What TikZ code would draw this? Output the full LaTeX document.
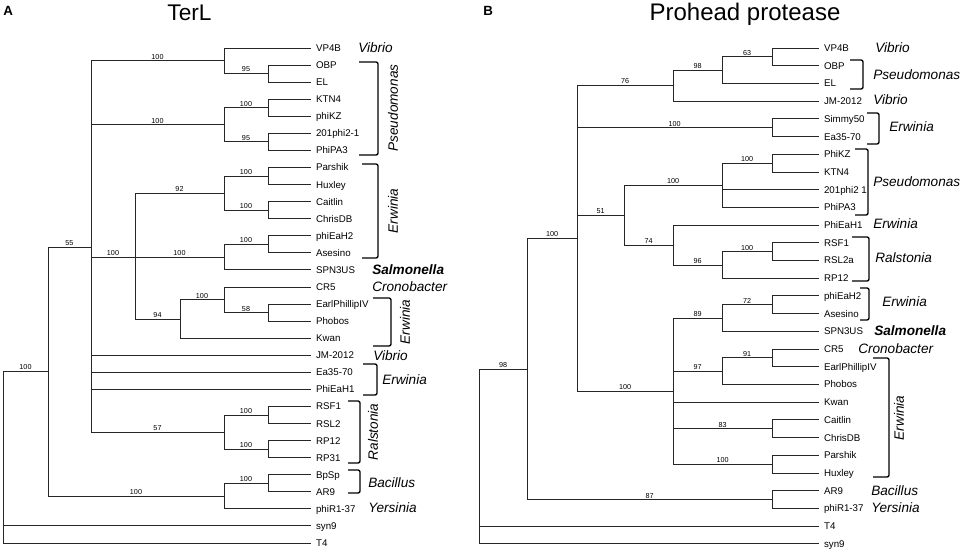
\documentclass[tikz,border=0pt]{standalone}
\usepackage{fontspec}
\setmainfont{Liberation Sans}
\tikzset{
  br/.style={line width=0.7pt, draw=black!85},
  leaf/.style={anchor=west, inner xsep=3.6pt, inner ysep=0pt, font=\fontsize{7.3}{8}\selectfont, text height=5.2pt, text depth=0pt},
  boot/.style={above=0.4pt, inner sep=0.4pt, font=\fontsize{5.4}{6}\selectfont},
  genus/.style={anchor=west, inner sep=0pt, font=\fontsize{10.2}{12}\selectfont\itshape, text height=7.3pt, text depth=0pt},
  genusb/.style={genus, font=\fontsize{10.2}{12}\selectfont\bfseries\itshape},
  genusv/.style={rotate=90, inner sep=0pt, font=\fontsize{10.2}{12}\selectfont\itshape, text height=7.3pt, text depth=0pt},
  bracket/.style={line width=1pt, draw=black, rounded corners=1.5pt},
  title/.style={anchor=base, inner sep=0pt},
  panel/.style={anchor=base west, inner sep=0pt, font=\fontsize{10}{12}\selectfont\bfseries},
}
\begin{document}
\begin{tikzpicture}[x=0.75pt,y=-0.75pt]
\useasboundingbox (0,0) rectangle (964,553);

% ---------------- titles ----------------
\node[panel] (pA) at (3,15.5) {A};
\node[panel] (pB) at (483,15.5) {B};
\node[title, font=\fontsize{17}{20}\selectfont] (tA) at (189.5,21) {TerL};
\node[title, font=\fontsize{18}{20}\selectfont] (tB) at (745,21) {Prohead protease};

% ---------------- left tree: leaves ----------------
\foreach \i/\t in {0/VP4B,1/OBP,2/EL,3/KTN4,4/phiKZ,5/201phi2-1,6/PhiPA3,7/Parshik,8/Huxley,9/Caitlin,10/ChrisDB,11/phiEaH2,12/Asesino,13/SPN3US,14/CR5,15/EarlPhillipIV,16/Phobos,17/Kwan,18/JM-2012,19/Ea35-70,20/PhiEaH1,21/RSF1,22/RSL2,23/RP12,24/RP31,25/BpSp,26/AR9,27/phiR1-37,28/syn9,29/T4}
  \node[leaf] (A\i) at (311,{48+17.07*\i}) {\t};

% internal nodes
\coordinate (La) at (268,73.6);
\coordinate (Lb) at (224,60.8);
\coordinate (Lc) at (268,107.7);
\coordinate (Ld) at (268,141.9);
\coordinate (Le) at (224,124.8);
\coordinate (Lf) at (268,176.0);
\coordinate (Lg) at (268,210.2);
\coordinate (Lh) at (224,193.1);
\coordinate (Li) at (268,244.3);
\coordinate (Lj) at (224,257.1);
\coordinate (Lk) at (268,312.6);
\coordinate (Ll) at (224,299.8);
\coordinate (Lm) at (180,319.0);
\coordinate (Ln) at (135,257.1);
\coordinate (Lo) at (268,415.0);
\coordinate (Lp) at (268,449.1);
\coordinate (Lq) at (224,432.1);
\coordinate (Lr) at (91,247.0);
\coordinate (Ls) at (268,483.3);
\coordinate (Lt) at (224,496.1);
\coordinate (Lu) at (48,371.5);
\coordinate (Lv) at (3,371.5);

\draw[br] (La) |- (A1.west) (La) |- (A2.west);
\draw[br] (Lb) |- (A0.west) (Lb) |- node[boot,pos=0.75]{95} (La);
\draw[br] (Lc) |- (A3.west) (Lc) |- (A4.west);
\draw[br] (Ld) |- (A5.west) (Ld) |- (A6.west);
\draw[br] (Le) |- node[boot,pos=0.75]{100} (Lc) (Le) |- node[boot,pos=0.75]{95} (Ld);
\draw[br] (Lf) |- (A7.west) (Lf) |- (A8.west);
\draw[br] (Lg) |- (A9.west) (Lg) |- (A10.west);
\draw[br] (Lh) |- node[boot,pos=0.75]{100} (Lf) (Lh) |- node[boot,pos=0.75]{100} (Lg);
\draw[br] (Li) |- (A11.west) (Li) |- (A12.west);
\draw[br] (Lj) |- node[boot,pos=0.75]{100} (Li) (Lj) |- (A13.west);
\draw[br] (Lk) |- (A15.west) (Lk) |- (A16.west);
\draw[br] (Ll) |- (A14.west) (Ll) |- node[boot,pos=0.75]{58} (Lk);
\draw[br] (Lm) |- node[boot,pos=0.75]{100} (Ll) (Lm) |- (A17.west);
\draw[br] (Ln) |- node[boot,pos=0.75]{92} (Lh) (Ln) |- node[boot,pos=0.75]{100} (Lj) (Ln) |- node[boot,pos=0.75]{94} (Lm);
\draw[br] (Lo) |- (A21.west) (Lo) |- (A22.west);
\draw[br] (Lp) |- (A23.west) (Lp) |- (A24.west);
\draw[br] (Lq) |- node[boot,pos=0.75]{100} (Lo) (Lq) |- node[boot,pos=0.75]{100} (Lp);
\draw[br] (Lr) |- node[boot,pos=0.75]{100} (Lb) (Lr) |- node[boot,pos=0.75]{100} (Le)
          (Lr) |- node[boot,pos=0.75]{100} (Ln) (Lr) |- (A18.west) (Lr) |- (A19.west)
          (Lr) |- (A20.west) (Lr) |- node[boot,pos=0.75]{57} (Lq);
\draw[br] (Ls) |- (A25.west) (Ls) |- (A26.west);
\draw[br] (Lt) |- node[boot,pos=0.75]{100} (Ls) (Lt) |- (A27.west);
\draw[br] (Lu) |- node[boot,pos=0.75]{55} (Lr) (Lu) |- node[boot,pos=0.75]{100} (Lt);
\draw[br] (Lv) |- node[boot,pos=0.75]{100} (Lu) (Lv) |- (A28.west) (Lv) |- (A29.west);

% left genus labels
\node[genus] (gL1) at (358,48) {Vibrio};
\draw[bracket] (359,62) -- (378,62) -- (378,155) -- (359,155);
\node[genusv] (gL2) at (393,108) {Pseudomonas};
\draw[bracket] (362,164) -- (378,164) -- (378,258) -- (362,258);
\node[genusv] (gL3) at (393,211) {Erwinia};
\node[genusb] (gL4) at (372,270) {Salmonella};
\node[genus] (gL5) at (372,287) {Cronobacter};
\draw[bracket] (373,298) -- (391,298) -- (391,346) -- (373,346);
\node[genusv] (gL6) at (405,322) {Erwinia};
\node[genus] (gL7) at (373,356) {Vibrio};
\draw[bracket] (363,364) -- (377,364) -- (377,395) -- (363,395);
\node[genus] (gL8) at (382,380) {Erwinia};
\draw[bracket] (348,401) -- (360,401) -- (360,463) -- (348,463);
\node[genusv] (gL9) at (373,432) {Ralstonia};
\draw[bracket] (348,470) -- (360,470) -- (360,493) -- (348,493);
\node[genus] (gL10) at (368,483) {Bacillus};
\node[genus] (gL11) at (368,508) {Yersinia};

% ---------------- right tree: leaves ----------------
\foreach \i/\t in {0/VP4B,1/OBP,2/EL,3/JM-2012,4/Simmy50,5/Ea35-70,6/PhiKZ,7/KTN4,8/201phi2 1,9/PhiPA3,10/PhiEaH1,11/RSF1,12/RSL2a,13/RP12,14/phiEaH2,15/Asesino,16/SPN3US,17/CR5,18/EarlPhillipIV,19/Phobos,20/Kwan,21/Caitlin,22/ChrisDB,23/Parshik,24/Huxley,25/AR9,26/phiR1-37,27/T4,28/syn9}
  \node[leaf] (B\i) at (819,{48+17.71*\i}) {\t};

\coordinate (Ra) at (772,56.9);
\coordinate (Rb) at (722,70.1);
\coordinate (Rc) at (673,85.6);
\coordinate (Rd) at (772,127.7);
\coordinate (Re) at (772,163.1);
\coordinate (Rf) at (722,185.2);
\coordinate (Rg) at (772,251.7);
\coordinate (Rh) at (722,265.0);
\coordinate (Ri) at (673,245.0);
\coordinate (Rj) at (624,215.1);
\coordinate (Rk) at (772,304.8);
\coordinate (Rl) at (722,318.1);
\coordinate (Rm) at (772,357.9);
\coordinate (Rn) at (722,371.2);
\coordinate (Ro) at (772,428.8);
\coordinate (Rp) at (772,464.2);
\coordinate (Rq) at (673,391.2);
\coordinate (Rr) at (577,238.4);
\coordinate (Rs) at (772,499.6);
\coordinate (Rt) at (527,369.0);
\coordinate (Ru) at (479,369.0);

\draw[br] (Ra) |- (B0.west) (Ra) |- (B1.west);
\draw[br] (Rb) |- node[boot,pos=0.75]{63} (Ra) (Rb) |- (B2.west);
\draw[br] (Rc) |- node[boot,pos=0.75]{98} (Rb) (Rc) |- (B3.west);
\draw[br] (Rd) |- (B4.west) (Rd) |- (B5.west);
\draw[br] (Re) |- (B6.west) (Re) |- (B7.west);
\draw[br] (Rf) |- node[boot,pos=0.75]{100} (Re) (Rf) |- (B8.west) (Rf) |- (B9.west);
\draw[br] (Rg) |- (B11.west) (Rg) |- (B12.west);
\draw[br] (Rh) |- node[boot,pos=0.75]{100} (Rg) (Rh) |- (B13.west);
\draw[br] (Ri) |- (B10.west) (Ri) |- node[boot,pos=0.75]{96} (Rh);
\draw[br] (Rj) |- node[boot,pos=0.75]{100} (Rf) (Rj) |- node[boot,pos=0.75]{74} (Ri);
\draw[br] (Rk) |- (B14.west) (Rk) |- (B15.west);
\draw[br] (Rl) |- node[boot,pos=0.75]{72} (Rk) (Rl) |- (B16.west);
\draw[br] (Rm) |- (B17.west) (Rm) |- (B18.west);
\draw[br] (Rn) |- node[boot,pos=0.75]{91} (Rm) (Rn) |- (B19.west);
\draw[br] (Ro) |- (B21.west) (Ro) |- (B22.west);
\draw[br] (Rp) |- (B23.west) (Rp) |- (B24.west);
\draw[br] (Rq) |- node[boot,pos=0.75]{89} (Rl) (Rq) |- node[boot,pos=0.75]{97} (Rn)
          (Rq) |- (B20.west) (Rq) |- node[boot,pos=0.75]{83} (Ro) (Rq) |- node[boot,pos=0.75]{100} (Rp);
\draw[br] (Rr) |- node[boot,pos=0.75]{76} (Rc) (Rr) |- node[boot,pos=0.75]{100} (Rd)
          (Rr) |- node[boot,pos=0.75]{51} (Rj) (Rr) |- node[boot,pos=0.75]{100} (Rq);
\draw[br] (Rs) |- (B25.west) (Rs) |- (B26.west);
\draw[br] (Rt) |- node[boot,pos=0.75]{100} (Rr) (Rt) |- node[boot,pos=0.75]{87} (Rs);
\draw[br] (Ru) |- node[boot,pos=0.75]{98} (Rt) (Ru) |- (B27.west) (Ru) |- (B28.west);

% right genus labels
\node[genus] (gR1) at (875,48) {Vibrio};
\draw[bracket] (850,60) -- (863,60) -- (863,89) -- (850,89);
\node[genus] (gR2) at (873,75) {Pseudomonas};
\node[genus] (gR3) at (873,100) {Vibrio};
\draw[bracket] (867,113) -- (879,113) -- (879,144) -- (867,144);
\node[genus] (gR4) at (889,127) {Erwinia};
\draw[bracket] (855,149) -- (868,149) -- (868,215) -- (855,215);
\node[genus] (gR5) at (873,182) {Pseudomonas};
\node[genus] (gR6) at (873,224) {Erwinia};
\draw[bracket] (852,237) -- (869,237) -- (869,281) -- (852,281);
\node[genus] (gR7) at (875,258) {Ralstonia};
\draw[bracket] (860,288) -- (869,288) -- (869,320) -- (860,320);
\node[genus] (gR8) at (882,302) {Erwinia};
\node[genusb] (gR9) at (874,331) {Salmonella};
\node[genus] (gR10) at (858,349) {Cronobacter};
\draw[bracket] (873,358) -- (889,358) -- (889,477) -- (873,477);
\node[genusv] (gR11) at (899,418) {Erwinia};
\node[genus] (gR12) at (871,491) {Bacillus};
\node[genus] (gR13) at (871,508) {Yersinia};
\end{tikzpicture}
\end{document}
